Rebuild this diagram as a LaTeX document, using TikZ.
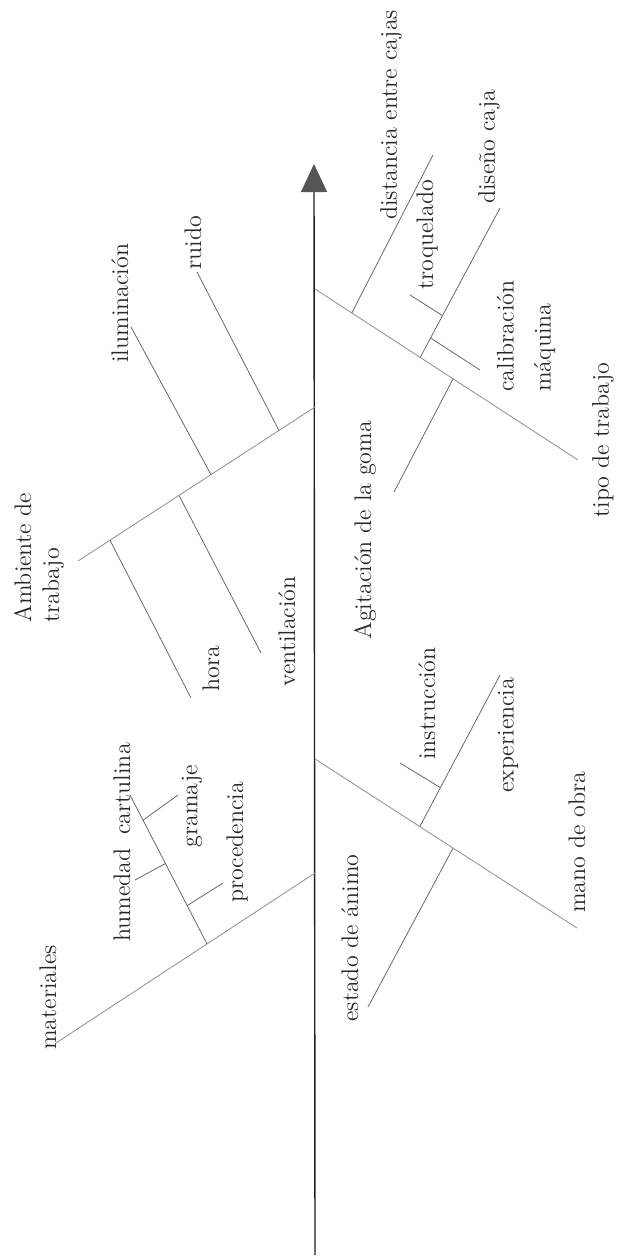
\documentclass[tikz,border=0pt]{standalone}
\usepackage{tikz}
\usetikzlibrary{arrows.meta, calc}
\definecolor{spinecol}{RGB}{30, 30, 30}
\definecolor{bonecol}{RGB}{150, 150, 150}
\definecolor{twigcol}{RGB}{105, 105, 105}
\definecolor{headcol}{RGB}{85, 85, 85}
\definecolor{textcol}{RGB}{40, 40, 40}
\tikzset{
  spine/.style = {draw=spinecol, line width=0.7pt,
                  -{Triangle[length=14pt, width=13pt, color=headcol]}},
  bone/.style  = {draw=bonecol, line width=0.45pt},
  twig/.style  = {draw=twigcol, line width=0.4pt},
  % every cause is read from the bottom up
  cause/.style = {rotate=90, anchor=west, inner sep=0pt, align=left,
                  text=textcol, font=\fontsize{12}{14}\selectfont},
}

\begin{document}
\begin{tikzpicture}[x=0.5pt, y=-0.5pt]
  \useasboundingbox (0,0) rectangle (621,1260);

  %% ---------------- the spine ----------------
  \coordinate (tail) at (315,1255);
  \coordinate (head) at (314,164);
  \draw[spine] (tail) -- (head);

  %% ---------------- tipo de trabajo ----------------
  \coordinate (t0) at (315,289);
  \coordinate (t1) at (578,460);
  \draw[bone] (t0) -- (t1);
  \node[cause] (tipo) at (603,518) {tipo de trabajo};

  \coordinate (dist0) at ($(t0)!0.14!(t1)$);
  \coordinate (dist1) at (433,155);
  \draw[twig] (dist0) -- (dist1);
  \node[cause] (distancia) at (391,220) {distancia entre cajas};

  \coordinate (dis0) at ($(t0)!0.40!(t1)$);
  \coordinate (dis1) at (500,208);
  \draw[twig] (dis0) -- (dis1);
  \node[cause] (diseno) at (489,204) {diseño caja};

  \coordinate (tro0) at ($(dis0)!0.28!(dis1)$);
  \coordinate (tro1) at (410,295);
  \draw[twig] (tro0) -- (tro1);
  \node[cause] (troquel) at (427,290) {troquelado};

  \coordinate (cal0) at ($(dis0)!0.13!(dis1)$);
  \coordinate (cal1) at (480,370);
  \draw[twig] (cal0) -- (cal1);
  \node[cause] (calib) at (526,392) {calibración\\[4.5pt]máquina};

  \coordinate (agi0) at ($(t0)!0.525!(t1)$);
  \coordinate (agi1) at (394,492);
  \draw[twig] (agi0) -- (agi1);
  \node[cause] (agit) at (365,640) {Agitación de la goma};

  %% ---------------- ambiente de trabajo ----------------
  \coordinate (a0) at (315,407);
  \coordinate (a1) at (78,561);
  \draw[bone] (a0) -- (a1);
  \node[cause] (amb) at (39,623) {Ambiente de\\trabajo};

  \coordinate (rui0) at ($(a0)!0.152!(a1)$);
  \coordinate (rui1) at (197,272);
  \draw[twig] (rui0) -- (rui1);
  \node[cause] (ruido) at (193,270) {ruido};

  \coordinate (ilu0) at ($(a0)!0.439!(a1)$);
  \coordinate (ilu1) at (131,327);
  \draw[twig] (ilu0) -- (ilu1);
  \node[cause] (ilum) at (120,363) {iluminación};

  \coordinate (ven0) at ($(a0)!0.574!(a1)$);
  \coordinate (ven1) at (261,653);
  \draw[twig] (ven0) -- (ven1);
  \node[cause] (vent) at (287,687) {ventilación};

  \coordinate (hor0) at ($(a0)!0.865!(a1)$);
  \coordinate (hor1) at (191,698);
  \draw[twig] (hor0) -- (hor1);
  \node[cause] (hora) at (211,692) {hora};

  %% ---------------- mano de obra ----------------
  \coordinate (o0) at (315,759);
  \coordinate (o1) at (577,928);
  \draw[bone] (o0) -- (o1);
  \node[cause] (mano) at (577,913) {mano de obra};

  \coordinate (exp0) at ($(o0)!0.40!(o1)$);
  \coordinate (exp1) at (500,675);
  \draw[twig] (exp0) -- (exp1);
  \node[cause] (exper) at (508,793) {experiencia};

  \coordinate (ins0) at ($(exp0)!0.257!(exp1)$);
  \coordinate (ins1) at (400,763);
  \draw[twig] (ins0) -- (ins1);
  \node[cause] (instr) at (427,760) {instrucción};

  \coordinate (est0) at ($(o0)!0.527!(o1)$);
  \coordinate (est1) at (368,1007);
  \draw[twig] (est0) -- (est1);
  \node[cause] (estado) at (350,1022) {estado de ánimo};

  %% ---------------- materiales ----------------
  \coordinate (m0) at (315,873);
  \coordinate (m1) at (56,1043);
  \draw[bone] (m0) -- (m1);
  \node[cause] (mater) at (48,1050) {materiales};

  \coordinate (car0) at ($(m0)!0.417!(m1)$);
  \coordinate (car1) at (130,795);
  \draw[twig] (car0) -- (car1);
  \node[cause] (cartul) at (122,835) {cartulina};

  \coordinate (gra0) at ($(car0)!0.831!(car1)$);
  \coordinate (gra1) at (178,795);
  \draw[twig] (gra0) -- (gra1);
  \node[cause] (gramaje) at (192,848) {gramaje};

  \coordinate (hum0) at ($(car0)!0.54!(car1)$);
  \coordinate (hum1) at (135,880);
  \draw[twig] (hum0) -- (hum1);
  \node[cause] (humed) at (122,942) {humedad};

  \coordinate (pro0) at ($(car0)!0.257!(car1)$);
  \coordinate (pro1) at (223,883);
  \draw[twig] (pro0) -- (pro1);
  \node[cause] (proced) at (237,903) {procedencia};

\end{tikzpicture}
\end{document}
